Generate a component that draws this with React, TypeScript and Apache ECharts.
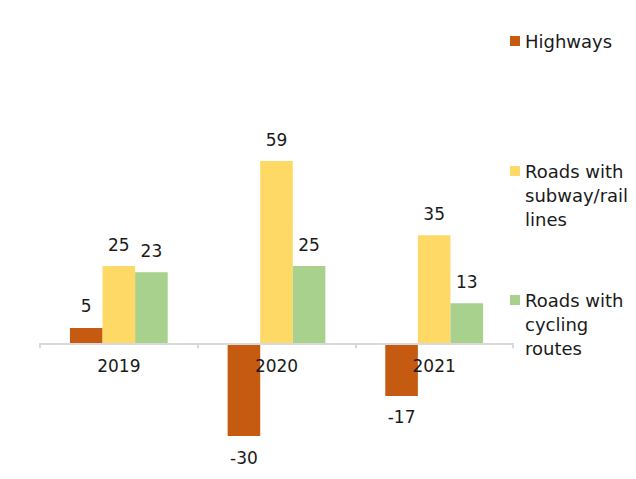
import React, { useEffect, useRef } from "react";
import * as echarts from "echarts";

const categories = ["2019", "2020", "2021"];
const seriesNames = ["Highways", "Roads with\nsubway/rail\nlines", "Roads with\ncycling\nroutes"];
const highways = [5, -30, -17];
const subwayRail = [25, 59, 35];
const cycling = [23, 25, 13];
const colors = ["#C55A11", "#FFD966", "#A9D18E"];

const FONT = "DejaVu Sans";
const Y_MIN = -40;
const Y_MAX = 70;
const GRID_TOP = 127;
const GRID_BOTTOM = 12;
const HEIGHT = 479;

export default function App() {
  const ref = useRef<HTMLDivElement>(null);
  useEffect(() => {
    if (!ref.current) return;
    const chart = echarts.init(ref.current, undefined, { renderer: "svg" });
    const values = [highways, subwayRail, cycling];
    const mkData = (arr: number[]) =>
      arr.map((v) => ({ value: v, label: { position: v < 0 ? "bottom" : "top" } }));
    const legendTops = [29, 111, 240];
    const gridH = HEIGHT - GRID_TOP - GRID_BOTTOM;
    const zeroOffset = -(gridH * (0 - Y_MIN)) / (Y_MAX - Y_MIN);
    chart.setOption({
      animation: false,
      backgroundColor: "#ffffff",
      grid: {
        left: 40,
        right: 123,
        top: GRID_TOP,
        bottom: GRID_BOTTOM,
        containLabel: false,
        outerBoundsMode: "none",
      },
      legend: seriesNames.map((n, i) => ({
        data: [n],
        orient: "vertical",
        left: 510,
        top: legendTops[i],
        padding: 0,
        itemWidth: 10,
        itemHeight: 10,
        itemGap: 0,
        icon: "rect",
        selectedMode: false,
        formatter: (name: string) => {
          const lines = name.split("\n").length;
          return "\n".repeat(lines - 1) + name;
        },
        textStyle: {
          fontFamily: FONT,
          fontSize: 18,
          color: "#1a1a1a",
          lineHeight: 24,
        },
      })),
      xAxis: {
        type: "category",
        data: categories,
        z: 10,
        offset: zeroOffset,
        axisLine: { show: true, onZero: false, lineStyle: { color: "#D9D9D9", width: 2 } },
        axisTick: { show: true, length: 5, lineStyle: { color: "#D9D9D9", width: 2 } },
        axisLabel: { fontFamily: FONT, fontSize: 17, color: "#1a1a1a", margin: 14 },
        splitLine: { show: false },
      },
      yAxis: {
        type: "value",
        min: Y_MIN,
        max: Y_MAX,
        show: false,
        splitLine: { show: false },
      },
      series: seriesNames.map((n, i) => ({
        name: n,
        type: "bar",
        data: mkData(values[i]),
        barGap: "0%",
        barCategoryGap: "38%",
        itemStyle: { color: colors[i] },
        label: {
          show: true,
          distance: 13,
          fontFamily: FONT,
          fontSize: 17,
          color: "#1a1a1a",
        },
      })),
    });
    return () => chart.dispose();
  }, []);
  return (
    <div
      ref={ref}
      style={{ position: "fixed", left: 0, top: 0, width: 636, height: 479 }}
    />
  );
}
